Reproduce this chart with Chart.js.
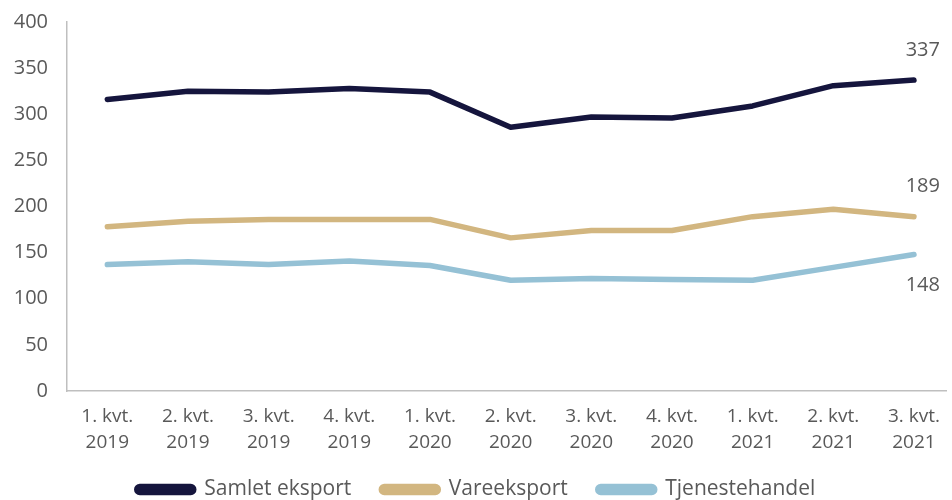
<!DOCTYPE html>
<html>
<head>
<meta charset="utf-8">
<script src="https://cdn.jsdelivr.net/npm/chart.js@4.4.1/dist/chart.umd.min.js"></script>
<style>
html,body{margin:0;padding:0;background:#fff;}
#wrap{width:952px;height:500px;position:relative;}
</style>
</head>
<body>
<div id="wrap"><canvas id="c" width="952" height="500"></canvas></div>
<script>
const categories = [
  ["1. kvt.","2019"],["2. kvt.","2019"],["3. kvt.","2019"],["4. kvt.","2019"],
  ["1. kvt.","2020"],["2. kvt.","2020"],["3. kvt.","2020"],["4. kvt.","2020"],
  ["1. kvt.","2021"],["2. kvt.","2021"],["3. kvt.","2021"]
];
const samletEksport = [316, 325, 324, 328, 324, 286, 297, 296, 309, 331, 337];
const vareeksport   = [178, 184, 186, 186, 186, 166, 174, 174, 189, 197, 189];
const tjenestehandel= [137, 140, 137, 141, 136, 120, 122, 121, 120, 134, 148];
const endLabels = ["337", "189", "148"];
const yTicks = [0, 50, 100, 150, 200, 250, 300, 350, 400];

const FONT = "'Open Sans', 'Noto Sans', sans-serif";
const toPts = arr => arr.map((v, i) => ({x: i, y: v}));

const endLabelPlugin = {
  id: 'endLabels',
  afterDatasetsDraw(chart) {
    const ctx = chart.ctx;
    ctx.save();
    ctx.font = "20px " + FONT;
    ctx.fillStyle = "#595959";
    ctx.textAlign = "right";
    ctx.textBaseline = "middle";
    const offsets = [-30, -30, 31];
    chart.data.datasets.forEach((ds, di) => {
      const meta = chart.getDatasetMeta(di);
      const pt = meta.data[meta.data.length - 1];
      ctx.fillText(endLabels[di], pt.x + 26, pt.y + offsets[di]);
    });
    ctx.restore();
  }
};

const legendHeightPlugin = {
  id: 'legendHeight',
  beforeLayout(chart) {
    const lg = chart.legend;
    if (lg && !lg._patched) {
      const orig = lg.fit;
      lg.fit = function() { orig.call(this); this.height = 51; };
      lg._patched = true;
    }
  }
};

new Chart(document.getElementById('c'), {
  type: 'line',
  data: {
    datasets: [
      {label: 'Samlet eksport', data: toPts(samletEksport), borderColor: '#15153d', backgroundColor: '#15153d'},
      {label: 'Vareeksport', data: toPts(vareeksport), borderColor: '#d2b680', backgroundColor: '#d2b680'},
      {label: 'Tjenestehandel', data: toPts(tjenestehandel), borderColor: '#95c1d5', backgroundColor: '#95c1d5'}
    ]
  },
  options: {
    responsive: false,
    animation: false,
    layout: {padding: {top: 0, left: 0, right: 0, bottom: 0}},
    elements: {
      line: {borderWidth: 5.5, tension: 0, borderCapStyle: 'round', borderJoinStyle: 'round'},
      point: {radius: 0, hoverRadius: 0}
    },
    scales: {
      x: {
        type: 'linear',
        min: -0.5,
        max: 10.4,
        afterBuildTicks: axis => { axis.ticks = categories.map((_, i) => ({value: i})); },
        afterFit: s => { s.height = 58; s._computeLabelArea = () => undefined; },
        grid: {display: false, drawTicks: false},
        border: {display: true, color: '#bfbfbf', width: 1.5},
        ticks: {
          callback: (v) => categories[v],
          maxRotation: 0, autoSkip: false, padding: 12,
          color: '#595959', font: {family: FONT, size: 19, lineHeight: 1.4}
        }
      },
      y: {
        min: 0, max: 400,
        afterBuildTicks: axis => { axis.ticks = yTicks.map(v => ({value: v})); },
        afterFit: s => { s.width = 67; s.paddingTop = 22; s.paddingBottom = 0; },
        grid: {display: false, drawTicks: false},
        border: {display: true, color: '#bfbfbf', width: 1.5},
        ticks: {padding: 19, color: '#595959', font: {family: FONT, size: 20}}
      }
    },
    plugins: {
      legend: {
        position: 'bottom',
        labels: {
          boxWidth: 57, boxHeight: 6, useBorderRadius: true, borderRadius: 3,
          padding: 30, color: '#595959', font: {family: FONT, size: 21}
        }
      },
      tooltip: {enabled: false}
    }
  },
  plugins: [endLabelPlugin, legendHeightPlugin]
});
</script>
</body>
</html>
